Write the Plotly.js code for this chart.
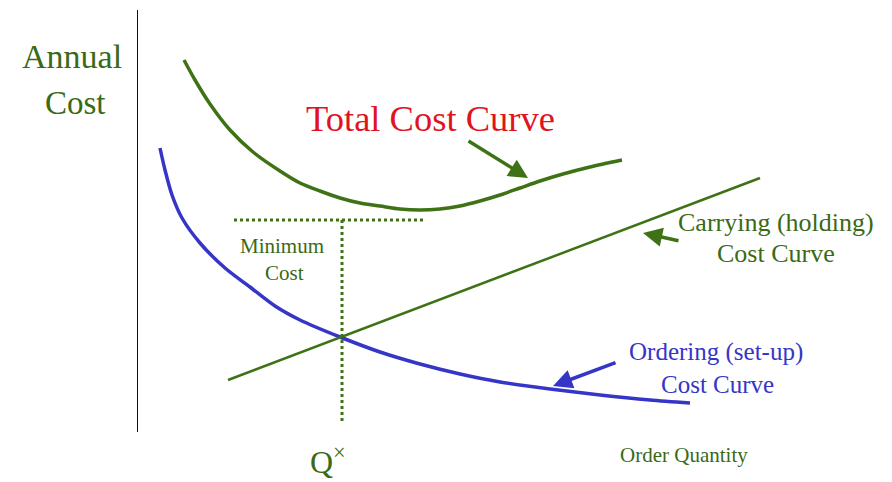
<!DOCTYPE html>
<html>
<head>
<meta charset="utf-8">
<script src="https://cdn.plot.ly/plotly-3.0.1.min.js"></script>
<style>html,body{margin:0;padding:0;background:#fff;}#chart{width:892px;height:482px;}</style>
</head>
<body>
<div id="chart"></div>
<script>
// Order quantity (x) and annual cost (y), schematic units
const totalQ    = [46, 57, 72, 92, 115, 142, 162, 182, 202, 222, 242, 262, 282, 302, 322, 342, 362, 382, 402, 425, 452, 484];
const totalCost = [372, 352, 328, 302, 280, 261, 249, 241, 234, 229, 226, 223, 222, 223, 226, 231, 237, 244, 251, 258, 265, 272];

const orderQ    = [22, 27, 34, 44, 62, 87, 112, 137, 162, 202, 242, 282, 322, 362, 412, 462, 512, 552];
const orderCost = [284, 262, 237, 214, 189, 164, 145, 126, 112, 95, 80, 68, 58, 50, 43, 37, 32, 29];

const carryQ    = [90, 622];
const carryCost = [52, 254];

const optQ = 204;        // Q*
const minCost = 212;     // minimum cost level
const minLineQ = [96, 286];

const X_MAX = 754, Y_MAX = 422;

const green = '#3f7214';
const textGreen = '#3a6a16';
const blue = '#3535c8';
const red = '#e0141e';
const serif = 'Liberation Serif, Times New Roman, serif';

const traces = [
  {x: totalQ, y: totalCost, mode: 'lines', line: {color: green, width: 3.5, shape: 'spline', smoothing: 0.8}, hoverinfo: 'skip'},
  {x: orderQ, y: orderCost, mode: 'lines', line: {color: blue, width: 3.5, shape: 'spline', smoothing: 0.8}, hoverinfo: 'skip'},
  {x: carryQ, y: carryCost, mode: 'lines', line: {color: green, width: 2.5}, hoverinfo: 'skip'},
  {x: minLineQ, y: [minCost, minCost], mode: 'lines', line: {color: green, width: 3, dash: 'dot'}, hoverinfo: 'skip'},
  {x: [optQ, optQ], y: [minCost, 10], mode: 'lines', line: {color: green, width: 3, dash: 'dot'}, hoverinfo: 'skip'}
];

// labels placed in paper coordinates so they may sit outside the plot area
function label(text, x, y, size, color) {
  return {text: text, x: x / X_MAX, y: y / Y_MAX, xref: 'paper', yref: 'paper', showarrow: false,
          xanchor: 'center', yanchor: 'middle', font: {family: serif, size: size, color: color}};
}
function arrow(x, y, ax, ay, color) {
  return {text: '', x: x, y: y, ax: ax, ay: ay, xref: 'x', yref: 'y', axref: 'x', ayref: 'y',
          showarrow: true, arrowhead: 2, arrowsize: 1.1, arrowwidth: 3.5, arrowcolor: color};
}

const annotations = [
  label('Annual', -66, 375, 34, textGreen),
  label('Cost', -63, 329, 33, textGreen),
  label('Total Cost Curve', 292, 313, 36.5, red),
  label('Minimum', 144, 186, 21, textGreen),
  label('Cost', 146, 159, 21, textGreen),
  label('Carrying (holding)', 638, 209, 26, textGreen),
  label('Cost Curve', 638, 179, 26, textGreen),
  label('Ordering (set-up)', 578, 80, 25, blue),
  label('Cost Curve', 579, 48, 25, blue),
  label('Order Quantity', 546, -23, 21, textGreen),
  label('Q<sup>×</sup>', 190, -28, 32, textGreen),
  arrow(390, 254, 329, 292, green),
  arrow(505, 199, 542, 191, green),
  arrow(415, 46, 479, 70, blue)
];

const layout = {
  width: 892, height: 482,
  margin: {l: 138, r: 0, t: 10, b: 50},
  paper_bgcolor: '#ffffff', plot_bgcolor: '#ffffff',
  showlegend: false,
  xaxis: {range: [0, X_MAX], showgrid: false, zeroline: false, showline: false, showticklabels: false, ticks: ''},
  yaxis: {range: [0, Y_MAX], showgrid: false, zeroline: false, showline: true, linecolor: '#111', linewidth: 1.5, showticklabels: false, ticks: ''},
  annotations: annotations
};

Plotly.newPlot('chart', traces, layout, {staticPlot: true, displayModeBar: false});
</script>
</body>
</html>
